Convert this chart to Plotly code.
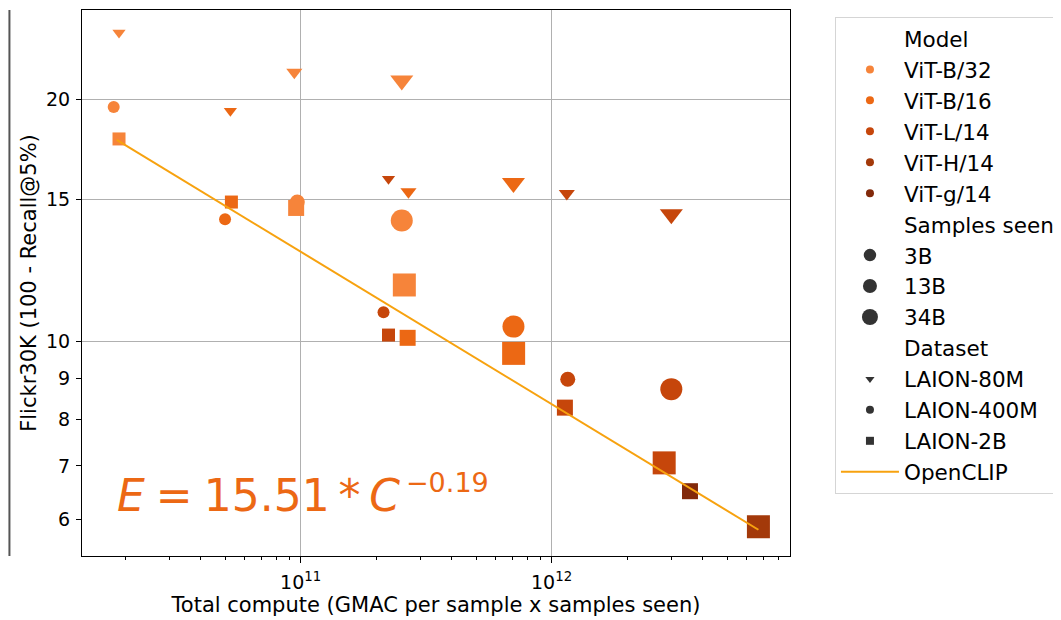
import plotly.graph_objects as go

# ---- data ----
models = ["ViT-B/32", "ViT-B/16", "ViT-L/14", "ViT-H/14", "ViT-g/14"]
samples_levels = ["3B", "13B", "34B"]
datasets = ["LAION-80M", "LAION-400M", "LAION-2B"]

pt_model = ["ViT-B/32"] * 9 + ["ViT-B/16"] * 8 + ["ViT-L/14"] * 9 + ["ViT-g/14", "ViT-H/14"]
pt_samples = ["3B", "3B", "3B", "13B", "13B", "13B", "34B", "34B", "34B",
              "3B", "3B", "3B", "13B", "13B", "34B", "34B", "34B",
              "3B", "3B", "3B", "13B", "13B", "13B", "34B", "34B", "34B",
              "13B", "34B"]
pt_dataset = ["LAION-80M", "LAION-400M", "LAION-2B", "LAION-80M", "LAION-400M", "LAION-2B", "LAION-80M", "LAION-400M", "LAION-2B",
              "LAION-80M", "LAION-400M", "LAION-2B", "LAION-80M", "LAION-2B", "LAION-80M", "LAION-400M", "LAION-2B",
              "LAION-80M", "LAION-400M", "LAION-2B", "LAION-80M", "LAION-400M", "LAION-2B", "LAION-80M", "LAION-400M", "LAION-2B",
              "LAION-2B", "LAION-2B"]
pt_compute = [1.89e10, 1.80e10, 1.89e10, 9.44e10, 9.7e10, 9.6e10, 2.53e11, 2.53e11, 2.59e11,
              5.25e10, 5.0e10, 5.30e10, 2.69e11, 2.67e11, 7.05e11, 7.05e11, 7.06e11,
              2.24e11, 2.14e11, 2.24e11, 1.15e12, 1.16e12, 1.13e12, 3.0e12, 3.0e12, 2.81e12,
              3.56e12, 6.67e12]
pt_error = [24.2, 19.56, 17.85, 21.6, 14.9, 14.65, 21.1, 14.13, 11.75,
            19.34, 14.18, 14.9, 15.35, 10.10, 15.73, 10.43, 9.66,
            15.92, 10.87, 10.18, 15.27, 8.97, 8.27, 14.39, 8.72, 7.06,
            6.51, 5.88]

fit_compute = [1.85e10, 6.67e12]
fit_error = [17.80, 5.83]
fit_main_text = "<i>E</i>\u2005=\u200515.51\u2009*\u2009<i>C</i>"
fit_exp_text = "−0.19"

x_major_ticks = [1e11, 1e12]
x_major_text = ["10<sup>11</sup>", "10<sup>12</sup>"]
y_ticks = [6, 7, 8, 9, 10, 15, 20]
y_grid = [10, 15, 20]

# ---- styles ----
model_colors = {"ViT-B/32": "#f6843a", "ViT-B/16": "#ec6814", "ViT-L/14": "#c6460b",
                "ViT-H/14": "#a3390a", "ViT-g/14": "#82290a"}
ds_symbol = {"LAION-80M": "triangle-down", "LAION-400M": "circle", "LAION-2B": "square"}
size_tab = {
    "LAION-80M": {"3B": 11.5, "13B": 14, "34B": 20},
    "LAION-400M": {"3B": 12, "13B": 15, "34B": 22},
    "LAION-2B": {"3B": 13, "13B": 16, "34B": 23},
}
FONT = "DejaVu Sans"
ORANGE_LINE = "#f7a20f"
EQ_COLOR = "#ec6814"

fig = go.Figure()

# data points, one trace per model
for m in models:
    idx = [i for i, mm in enumerate(pt_model) if mm == m]
    fig.add_trace(go.Scatter(
        x=[pt_compute[i] for i in idx],
        y=[pt_error[i] for i in idx],
        mode="markers",
        marker=dict(color=model_colors[m], opacity=1,
                    symbol=[ds_symbol[pt_dataset[i]] for i in idx],
                    size=[size_tab[pt_dataset[i]][pt_samples[i]] for i in idx],
                    line=dict(width=0)),
        showlegend=False, hoverinfo="x+y",
    ))

def header(txt):
    fig.add_trace(go.Scatter(x=[None], y=[None], mode="markers", name=txt,
                             marker=dict(color="rgba(0,0,0,0)", size=1)))

header("Model")
for m in models:
    fig.add_trace(go.Scatter(x=[None], y=[None], mode="markers", name=m,
                             marker=dict(color=model_colors[m], size=8, symbol="circle")))
header("Samples seen")
legend_sample_size = {"3B": 12.5, "13B": 14, "34B": 16}
for s in samples_levels:
    fig.add_trace(go.Scatter(x=[None], y=[None], mode="markers", name=s,
                             marker=dict(color="#333333", size=legend_sample_size[s], symbol="circle")))
header("Dataset")
for d in datasets:
    fig.add_trace(go.Scatter(x=[None], y=[None], mode="markers", name=d,
                             marker=dict(color="#333333", size=8, symbol=ds_symbol[d])))

# fitted line
fig.add_trace(go.Scatter(x=fit_compute, y=fit_error, mode="lines", name="OpenCLIP",
                         line=dict(color=ORANGE_LINE, width=2)))

# equation annotation (main part + exponent)
fig.add_annotation(
    xref="paper", yref="paper", x=0.047, y=0.11, xanchor="left", yanchor="middle",
    text=fit_main_text, showarrow=False, font=dict(family=FONT, size=44, color=EQ_COLOR),
)
fig.add_annotation(
    xref="paper", yref="paper", x=0.4555, y=0.134, xanchor="left", yanchor="middle",
    text=fit_exp_text, showarrow=False, font=dict(family=FONT, size=27, color=EQ_COLOR),
)

# stray frame line at left edge (from the neighbouring panel in the original)
fig.add_shape(type="line", xref="paper", yref="paper", x0=-0.1025, x1=-0.1025, y0=0, y1=1,
              line=dict(color="#555555", width=2))

x_minor = [k * 10 ** e for e in (10, 11, 12) for k in range(2, 10) if 1.35e10 < k * 10 ** e < 8.9e12]

fig.update_layout(
    width=1053, height=612,
    margin=dict(l=74, r=270, t=2, b=64),
    paper_bgcolor="white", plot_bgcolor="white",
    font=dict(family=FONT, size=19, color="black"),
    legend=dict(x=1.062, y=0.9872, xanchor="left", yanchor="top",
                bordercolor="#d5d5d5", borderwidth=1, bgcolor="white",
                font=dict(family=FONT, size=21.5, color="black"),
                tracegroupgap=0, itemsizing="trace", itemwidth=58),
    xaxis=dict(type="log", range=[10.129, 12.950],
               tickvals=x_major_ticks, ticktext=x_major_text,
               ticks="outside", ticklen=6, tickcolor="black",
               ticklabelstandoff=3,
               showgrid=True, gridcolor="#b0b0b0", gridwidth=1,
               showline=True, linecolor="black", linewidth=1, mirror=True,
               zeroline=False,
               tickfont=dict(family=FONT, size=19, color="black"),
               minor=dict(tickvals=x_minor, ticks="outside", ticklen=3, tickcolor="black", showgrid=False),
               title=dict(text="Total compute (GMAC per sample x samples seen)",
                          font=dict(family=FONT, size=21, color="black"), standoff=4)),
    yaxis=dict(type="log", range=[0.733, 1.412],
               tickvals=y_ticks, ticktext=[str(v) for v in y_ticks],
               ticks="outside", ticklen=5, tickcolor="black",
               ticklabelstandoff=2,
               showgrid=False,
               showline=True, linecolor="black", linewidth=1, mirror=True,
               zeroline=False,
               tickfont=dict(family=FONT, size=19, color="black"),
               minor=dict(tickvals=y_grid, ticks="", showgrid=True, gridcolor="#b0b0b0", gridwidth=1),
               title=dict(text="Flickr30K (100 - Recall@5%)",
                          font=dict(family=FONT, size=21, color="black"), standoff=3)),
)

fig.write_html("out.html")
